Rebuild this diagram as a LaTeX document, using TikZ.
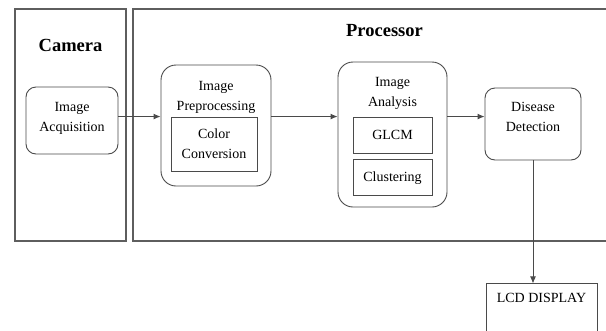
\documentclass[tikz,border=0pt]{standalone}
\usepackage{fontspec}
\setmainfont{Liberation Serif}
\usetikzlibrary{positioning, arrows.meta}
\definecolor{linegray}{HTML}{4A4A4A}
\definecolor{framegray}{HTML}{5E5E5E}
\tikzstyle{sideframe} = [rectangle, draw=framegray, line width=1.2pt, inner sep=0pt]
\tikzstyle{heading} = [inner sep=0pt, font=\fontsize{18.5pt}{22pt}\selectfont\bfseries]
\tikzstyle{stagebox} = [rectangle, rounded corners=10pt, draw=linegray, line width=0.9pt, align=center, font=\fontsize{14pt}{20pt}\selectfont]
\tikzstyle{stagegroup} = [rectangle, rounded corners=15pt, draw=linegray, line width=0.9pt, inner sep=0pt]
\tikzstyle{stagetitle} = [inner sep=0pt, align=center, font=\fontsize{14pt}{20pt}\selectfont]
\tikzstyle{subbox} = [rectangle, draw=linegray, line width=0.9pt, align=center, font=\fontsize{14pt}{20pt}\selectfont]
\tikzstyle{lcdbox} = [rectangle, draw=linegray, line width=0.9pt, minimum width=111pt, text height=10pt, text depth=45pt, inner ysep=9pt, font=\fontsize{14pt}{20pt}\selectfont]
\tikzstyle{arrow} = [draw=linegray, line width=0.9pt, -{Latex[length=7pt, width=6pt]}]

\begin{document}
\begin{tikzpicture}[x=1pt, y=1pt, node distance=144pt]

\useasboundingbox (0,0) rectangle (606,-330);
\clip (0,0) rectangle (606,-330);

% the two hardware frames
\node (camera) [sideframe, minimum width=111pt, minimum height=232pt] at (70.5,-125) {};
\node (proc) [sideframe, minimum width=507pt, minimum height=232pt] at (386.5,-125) {};
\node (camlabel) [heading, below=31pt of camera.north] {Camera};
\node (proclabel) [heading, below=16pt of proc.north, xshift=-2pt] {Processor};

% processing stages
\node (acq) [stagebox, text depth=8pt, minimum width=92pt, minimum height=67pt] at (72,-120.5) {Image\\Acquisition};
\node (pre) [stagegroup, right of=acq, yshift=-5pt, minimum width=110pt, minimum height=121pt] {};
\node (ana) [stagegroup, right of=pre, xshift=32.5pt, yshift=-9pt, minimum width=109pt, minimum height=145pt] {};
\node (dis) [stagebox, text depth=14pt, right of=ana, xshift=-3.5pt, yshift=10.5pt, minimum width=96pt, minimum height=72pt] {Disease\\Detection};

\node (pretitle) [stagetitle, below=16.5pt of pre.north] {Image\\Preprocessing};
\node (conv) [subbox, below=52pt of pre.north, xshift=-2pt, minimum width=86pt, minimum height=54pt] {Color\\Conversion};

\node (anatitle) [stagetitle, below=15.5pt of ana.north] {Image\\Analysis};
\node (glcm) [subbox, below=55pt of ana.north, minimum width=79pt, minimum height=36pt] {GLCM};
\node (clust) [subbox, below=6pt of glcm, minimum width=79pt, minimum height=36pt] {Clustering};

\node (lcd) [lcdbox, below=123pt of dis.south, xshift=8.5pt] {LCD DISPLAY};

\draw [arrow] (acq.east |- conv.north) -- (pre.west |- conv.north);
\draw [arrow] (pre.east |- conv.north) -- (ana.west |- glcm.north);
\draw [arrow] (ana.east |- glcm.north) -- (dis.west |- glcm.north);
\draw [arrow] (dis.south) -- (dis.south |- lcd.north);

\end{tikzpicture}
\end{document}
